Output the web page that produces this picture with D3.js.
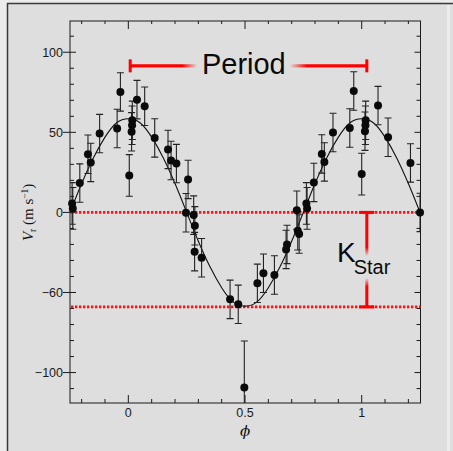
<!DOCTYPE html>
<html>
<head>
<meta charset="utf-8">
<script src="https://cdn.jsdelivr.net/npm/d3@7"></script>
<style>
  body { margin: 0; background: #ececec; }
  svg { display: block; }
</style>
</head>
<body>
<script>

// measured radial velocities, folded on the orbital phase
var phase = [-0.241, -0.238, -0.208, -0.173, -0.161, -0.123, -0.048, -0.034,
             0.004, 0.014, 0.016, 0.017, 0.037, 0.070, 0.113, 0.170, 0.183, 0.206,
             0.247, 0.256, 0.280, 0.285, 0.284, 0.314, 0.436, 0.471, 0.497,
             0.553, 0.579, 0.626, 0.676, 0.680, 0.722, 0.726, 0.732,
             0.763, 0.766, 0.795, 0.829, 0.840, 0.877, 0.949, 0.966,
             1.000, 1.014, 1.016, 1.017, 1.070, 1.113, 1.209, 1.250];
var velocity = [5.6, 2.5, 18.3, 36.3, 31.2, 49.2, 52.4, 75.2,
                23.1, 50.3, 54.4, 57.5, 70.4, 66.3, 46.5, 39.3, 32.4, 30.5,
                -0.2, 20.6, -1.7, -8.4, -24.5, -28.3, -54.3, -57.4, -109.3,
                -44.3, -38.0, -39.1, -23.1, -20.0, 1.4, -11.5, -13.5,
                5.6, 2.5, 18.7, 36.5, 31.5, 49.9, 52.7, 75.8,
                23.9, 50.7, 54.4, 57.5, 66.7, 46.9, 30.9, 0];
var error = [13, 13, 12, 12, 12, 12, 12, 12,
             13, 12, 12, 12, 12, 12, 12, 12, 12, 12,
             12, 12, 12, 12, 12, 12, 12, 12, 29,
             12, 12, 12, 12, 12, 12, 12, 12,
             13, 13, 12, 12, 12, 12, 12, 12,
             13, 12, 12, 12, 12, 12, 12, 12];

// fitted orbit
var fitPhase = [-0.25, -0.2, -0.15, -0.1, -0.05, 0, 0.05, 0.1, 0.15, 0.2, 0.25,
                0.3, 0.35, 0.4, 0.45, 0.5, 0.55, 0.6, 0.65, 0.7, 0.75,
                0.8, 0.85, 0.9, 0.95, 1.0, 1.05, 1.1, 1.15, 1.2, 1.25];
var fitVelocity = [0, 18, 34, 47, 56, 58.5, 56, 47, 34, 18, 0,
                   -18, -34, -47, -56, -58.5, -56, -47, -34, -18, 0,
                   18, 34, 47, 56, 58.5, 56, 47, 34, 18, 0];

// axis ticks
var xTickValues = [0, 0.5, 1];
var xTickLabels = ["0", "0.5", "1"];
var yTickValues = [100, 50, 0, -50, -100];
var yTickLabels = ["100", "50", "0", "\u221260", "\u2212100"];

// annotations
var periodPhase = [0.008, 1.022];
var periodLevel = 91.5;
var kLevels = [0, -59];
var kPhase = 1.022;

var width = 453, height = 451;
var plotLeft = 70, plotRight = 420.5, plotTop = 21, plotBottom = 403;

var x = d3.scaleLinear().domain([-0.25, 1.252]).range([plotLeft, plotRight]);
var y = d3.scaleLinear().domain([-119, 119.5]).range([plotBottom, plotTop]);

var svg = d3.select("body")
  .append("svg")
  .attr("width", width)
  .attr("height", height);

// frame around the figure
svg.append("rect")
  .attr("x", 7.5)
  .attr("y", 3.5)
  .attr("width", 480)
  .attr("height", 480)
  .style("fill", "#dedede")
  .style("stroke", "#3a3a3a")
  .style("stroke-width", 1.5);

svg.append("line")
  .attr("x1", 448.5).attr("x2", 448.5)
  .attr("y1", 5).attr("y2", height)
  .style("stroke", "#ececec")
  .style("stroke-width", 3);

var defs = svg.append("defs");
defs.append("clipPath")
  .attr("id", "plotClip")
  .append("rect")
  .attr("x", plotLeft).attr("y", plotTop)
  .attr("width", plotRight - plotLeft).attr("height", plotBottom - plotTop);

// ticks, every side of the box
var axes = svg.append("g").style("stroke", "#1a1a1a").style("stroke-width", 1);

d3.range(-0.2, 1.25, 0.1).forEach(function(v) {
  var major = xTickValues.some(function(t) { return Math.abs(t - v) < 1e-6; });
  axes.append("line")
    .attr("x1", x(v)).attr("x2", x(v))
    .attr("y1", plotBottom).attr("y2", plotBottom - (major ? 8 : 4));
  axes.append("line")
    .attr("x1", x(v)).attr("x2", x(v))
    .attr("y1", plotTop).attr("y2", plotTop + (major ? 8 : 3));
});

d3.range(-110, 111, 10).forEach(function(v) {
  var major = v % 50 === 0;
  axes.append("line")
    .attr("x1", major ? plotLeft - 7 : plotLeft).attr("x2", plotLeft + (major ? 6 : 4))
    .attr("y1", y(v)).attr("y2", y(v));
  axes.append("line")
    .attr("x1", plotRight).attr("x2", plotRight - (major ? 6 : 4))
    .attr("y1", y(v)).attr("y2", y(v));
});

axes.append("rect")
  .attr("x", plotLeft).attr("y", plotTop)
  .attr("width", plotRight - plotLeft).attr("height", plotBottom - plotTop)
  .style("fill", "none");

// tick labels
svg.append("g")
  .selectAll("text")
  .data(yTickValues)
  .enter().append("text")
  .attr("x", plotLeft - 7)
  .attr("y", function(d) { return y(d); })
  .attr("dy", "0.36em")
  .style("text-anchor", "end")
  .style("font-family", "Liberation Sans, Arial, sans-serif")
  .style("font-size", "12.5px")
  .style("fill", "#1a1a1a")
  .text(function(d, i) { return yTickLabels[i]; });

svg.append("g")
  .selectAll("text")
  .data(xTickValues)
  .enter().append("text")
  .attr("x", function(d) { return x(d); })
  .attr("y", 417)
  .style("text-anchor", "middle")
  .style("font-family", "Liberation Sans, Arial, sans-serif")
  .style("font-size", "12.5px")
  .style("fill", "#1a1a1a")
  .text(function(d, i) { return xTickLabels[i]; });

// axis titles
svg.append("text")
  .attr("x", x(0.5))
  .attr("y", 436)
  .style("text-anchor", "middle")
  .style("font-family", "DejaVu Serif, serif")
  .style("font-style", "italic")
  .style("font-size", "15px")
  .style("fill", "#111")
  .text("\u03d5");

var yTitle = svg.append("text")
  .attr("transform", "translate(33," + y(0) + ") rotate(-90)")
  .style("text-anchor", "middle")
  .style("font-family", "Liberation Serif, Times New Roman, serif")
  .style("font-size", "15px")
  .style("fill", "#111");
yTitle.append("tspan").style("font-style", "italic").text("V");
yTitle.append("tspan").attr("dy", 3).style("font-size", "9.5px").text("r");
yTitle.append("tspan").attr("dy", -3).text(" (m s");
yTitle.append("tspan").attr("dy", -5).style("font-size", "9.5px").text("\u22121");
yTitle.append("tspan").attr("dy", 5).text(")");

// red dotted reference levels
svg.append("g")
  .selectAll("line")
  .data(kLevels)
  .enter().append("line")
  .attr("x1", plotLeft + 1).attr("x2", plotRight)
  .attr("y1", function(d) { return y(d); })
  .attr("y2", function(d) { return y(d); })
  .style("stroke", "#ff1010")
  .style("stroke-width", 2.6)
  .style("stroke-dasharray", "2.4,1.6");

var plot = svg.append("g").attr("clip-path", "url(#plotClip)");

// fitted curve
var line = d3.line()
  .x(function(d, i) { return x(fitPhase[i]); })
  .y(function(d) { return y(d); })
  .curve(d3.curveNatural);

plot.append("path")
  .datum(fitVelocity)
  .attr("d", line)
  .style("fill", "none")
  .style("stroke", "#111")
  .style("stroke-width", 1.1);

// error bars
var bars = plot.append("g")
  .style("stroke", "#222")
  .style("stroke-width", 1.1);

phase.forEach(function(p, i) {
  var hi = y(velocity[i] + error[i]), lo = y(velocity[i] - error[i]);
  bars.append("line")
    .attr("x1", x(p)).attr("x2", x(p))
    .attr("y1", hi).attr("y2", lo);
  bars.append("line")
    .attr("x1", x(p) - 3.5).attr("x2", x(p) + 3.5)
    .attr("y1", hi).attr("y2", hi);
  bars.append("line")
    .attr("x1", x(p) - 3.5).attr("x2", x(p) + 3.5)
    .attr("y1", lo).attr("y2", lo);
});

// points
svg.append("g")
  .selectAll("circle")
  .data(velocity)
  .enter().append("circle")
  .attr("cx", function(d, i) { return x(phase[i]); })
  .attr("cy", function(d) { return y(d); })
  .attr("r", 4)
  .style("fill", "#0a0a0a");

// fading gradients for the red annotation bars
function fade(id, x1, y1, x2, y2, stops) {
  var g = defs.append("linearGradient")
    .attr("id", id)
    .attr("gradientUnits", "userSpaceOnUse")
    .attr("x1", x1).attr("y1", y1)
    .attr("x2", x2).attr("y2", y2);
  stops.forEach(function(s) {
    g.append("stop")
      .attr("offset", s[0])
      .attr("stop-color", "#ff0000")
      .attr("stop-opacity", s[1]);
  });
}

var red = "#ff0000";
var pL = x(periodPhase[0]), pR = x(periodPhase[1]), pY = y(periodLevel);

fade("periodLeft", pL, 0, pL + 67, 0, [[0, 1], [0.78, 1], [1, 0]]);
fade("periodRight", pR - 77, 0, pR, 0, [[0, 0], [0.22, 1], [1, 1]]);

svg.append("rect")
  .attr("x", pL).attr("y", pY - 1.6)
  .attr("width", 67).attr("height", 3.2)
  .style("fill", "url(#periodLeft)");
svg.append("rect")
  .attr("x", pR - 77).attr("y", pY - 1.6)
  .attr("width", 77).attr("height", 3.2)
  .style("fill", "url(#periodRight)");

[pL, pR].forEach(function(px) {
  svg.append("rect")
    .attr("x", px - 1.5).attr("y", pY - 6.5)
    .attr("width", 3).attr("height", 13)
    .style("fill", red);
});

svg.append("text")
  .attr("x", x(0.495))
  .attr("y", pY + 8.5)
  .style("text-anchor", "middle")
  .style("font-family", "Liberation Sans, Arial, sans-serif")
  .style("font-size", "29px")
  .style("fill", "#0a0a0a")
  .text("Period");

// K star amplitude marker
var kX = x(kPhase), kTop = y(kLevels[0]), kBot = y(kLevels[1]);

fade("kUpper", 0, kTop, 0, 256, [[0, 1], [0.8, 1], [1, 0]]);
fade("kLower", 0, 278, 0, kBot, [[0, 0], [0.3, 1], [1, 1]]);

svg.append("rect")
  .attr("x", kX - 1.5).attr("y", kTop)
  .attr("width", 3).attr("height", 256 - kTop)
  .style("fill", "url(#kUpper)");
svg.append("rect")
  .attr("x", kX - 1.5).attr("y", 278)
  .attr("width", 3).attr("height", kBot - 278)
  .style("fill", "url(#kLower)");

[kTop, kBot].forEach(function(py) {
  svg.append("rect")
    .attr("x", kX - 7.5).attr("y", py - 1.5)
    .attr("width", 15).attr("height", 3)
    .style("fill", red);
});

var kText = svg.append("text")
  .attr("x", 337)
  .attr("y", 261.5)
  .style("font-family", "Liberation Sans, Arial, sans-serif")
  .style("fill", "#0a0a0a");
kText.append("tspan").style("font-size", "28px").text("K");
kText.append("tspan").attr("dy", 12.5).attr("dx", -2).style("font-size", "20px").text("Star");

</script>
</body>
</html>
